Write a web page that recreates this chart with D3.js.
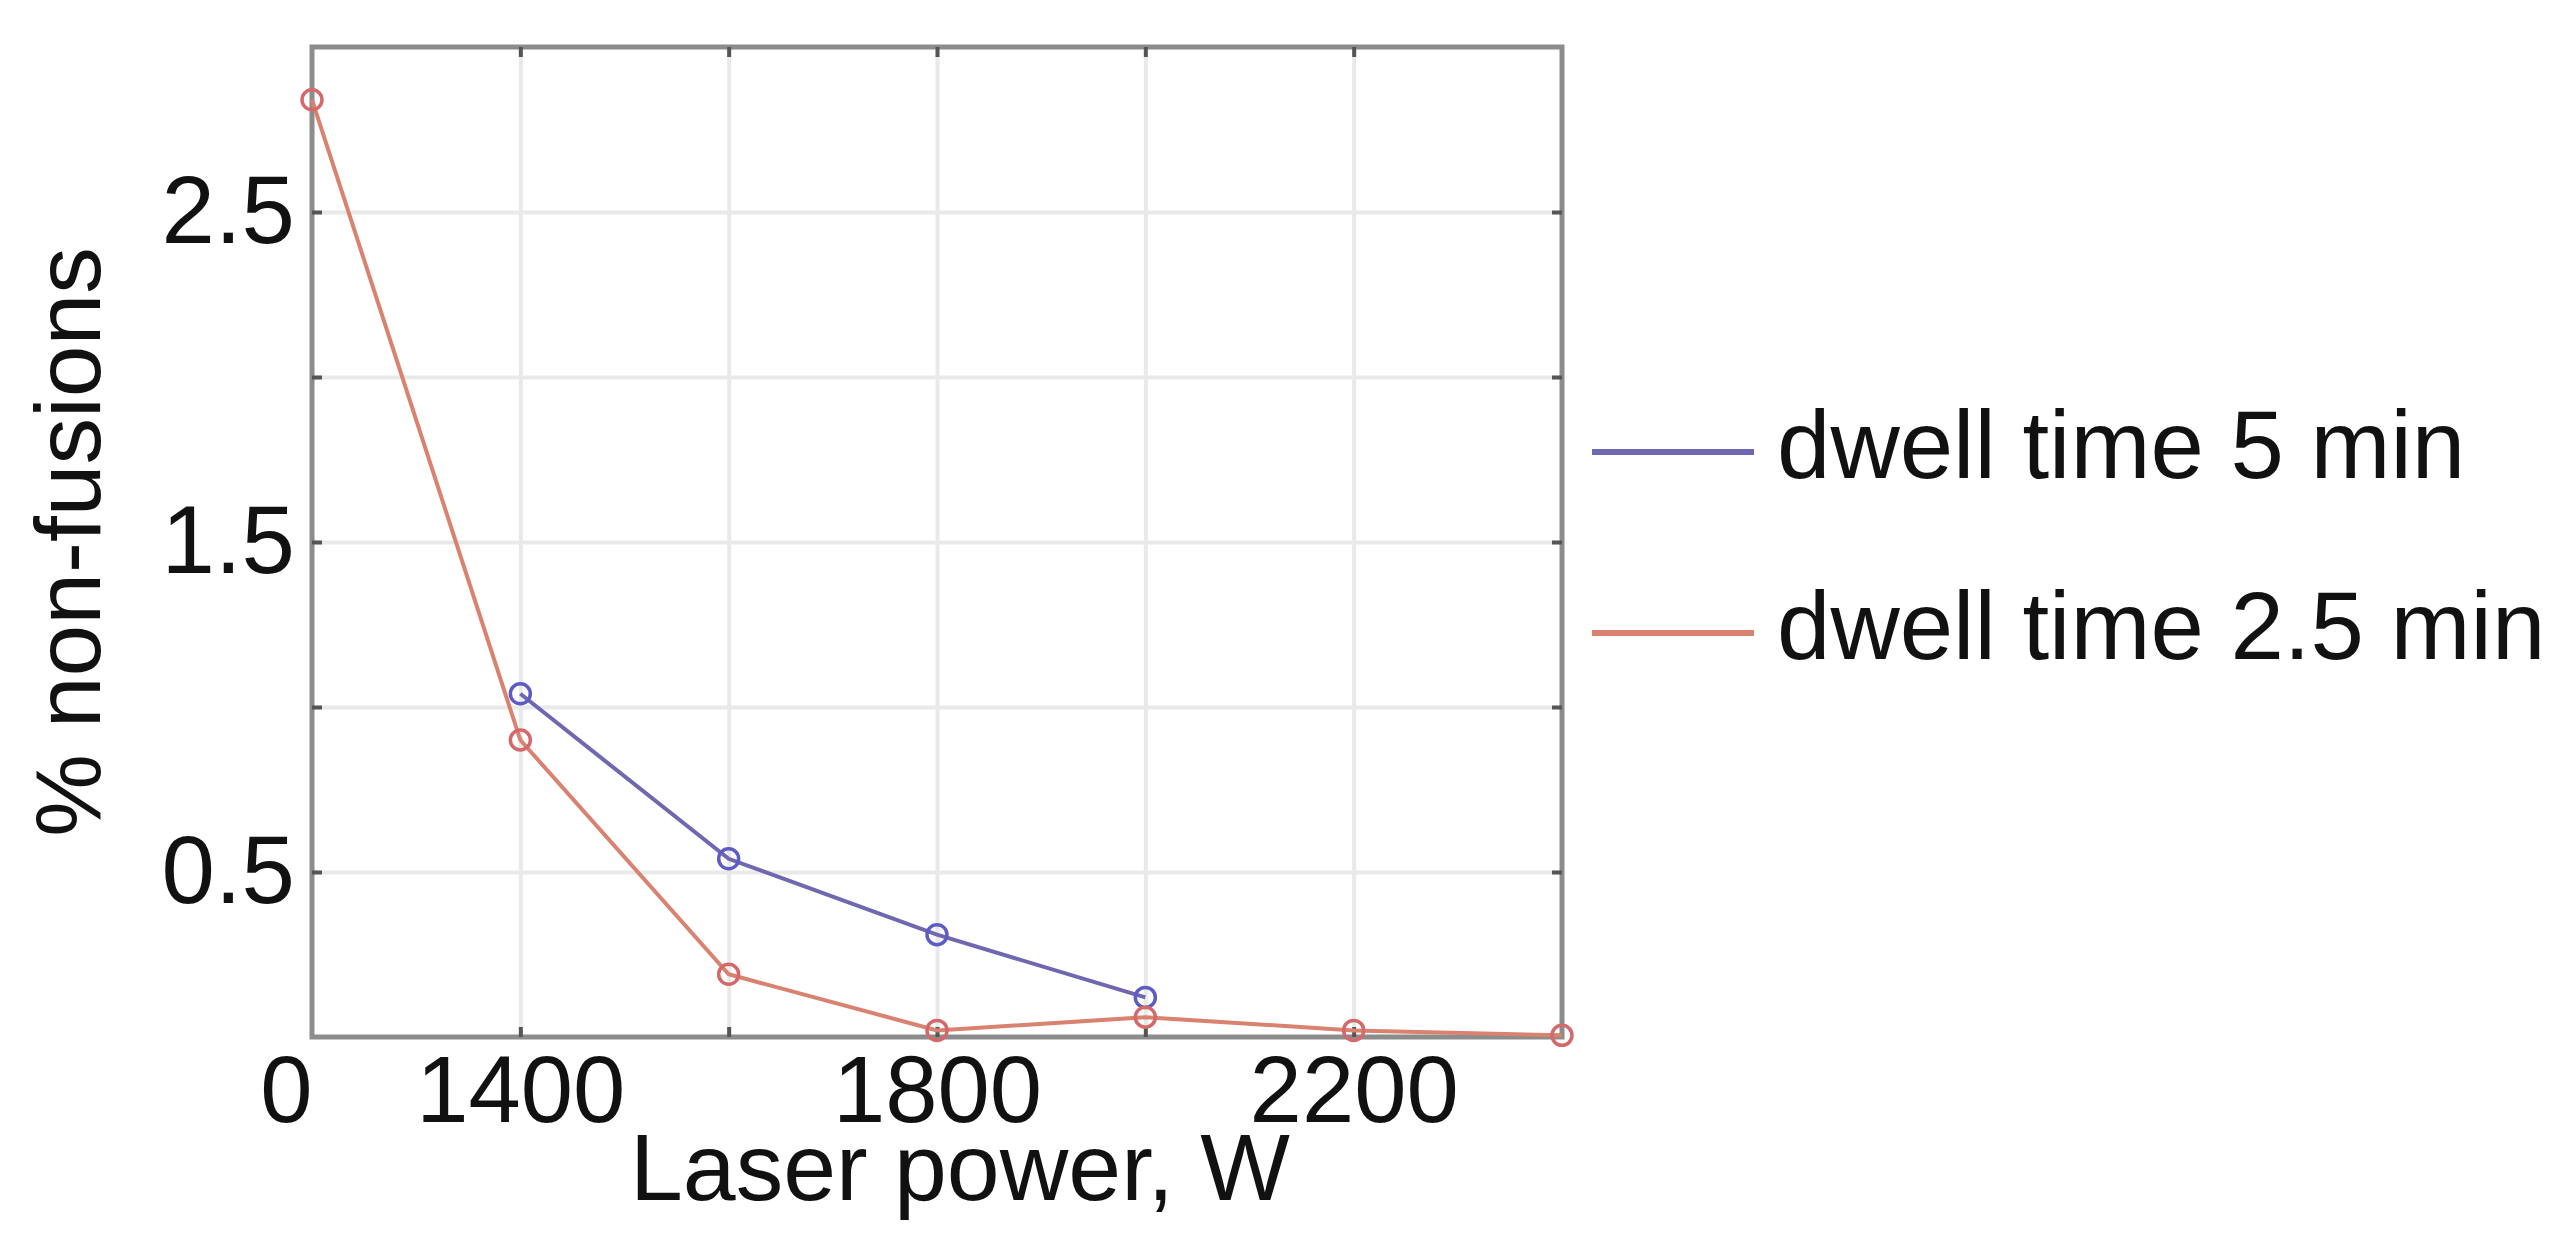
<!DOCTYPE html>
<html>
<head>
<meta charset="utf-8">
<script src="https://cdn.jsdelivr.net/npm/d3@7"></script>
<style>
  body { margin: 0; background: #fff; }
  svg { display: block; }
  .tick text { font-family: "Liberation Sans", Arial, sans-serif; fill: #111; }
</style>
</head>
<body>
<div id="chart"></div>
<script>
// data
var power5 = [1400, 1600, 1800, 2000];
var nonfusion5 = [1.04, 0.54, 0.31, 0.12];

var power25 = [1200, 1400, 1600, 1800, 2000, 2200, 2400];
var nonfusion25 = [2.84, 0.90, 0.19, 0.02, 0.06, 0.02, 0.005];

var seriesNames = ["dwell time 5 min", "dwell time 2.5 min"];

var xGridTicks = [1400, 1600, 1800, 2000, 2200];
var xLabelTicks = [1200, 1400, 1800, 2200];
var xTickLabels = ["0", "1400", "1800", "2200"];

var yGridTicks = [0.5, 1, 1.5, 2, 2.5];
var yLabelTicks = [0.5, 1.5, 2.5];
var yTickLabels = ["0.5", "1.5", "2.5"];

function chart() {

var svg = d3.select("#chart").append("svg")
    .attr("width", 2567)
    .attr("height", 1241),
    margin = {top: 47, left: 312},
    width = 1250,
    height = 990,
    font = "\"Liberation Sans\", Arial, sans-serif",
    g = svg.append("g").attr("transform", "translate(" + margin.left + "," + margin.top + ")");

var x = d3.scaleLinear().domain([1200, 2400]).range([0, width]),
    y = d3.scaleLinear().domain([0, 3]).range([height, 0]),
    z = d3.scaleOrdinal().domain(seriesNames).range(["#6f67b0", "#d8826f"]);

var series = [
  {id: seriesNames[0], marker: "#5c5cc4", values: power5.map(function(p, i) { return {power: p, value: nonfusion5[i]}; })},
  {id: seriesNames[1], marker: "#d4686a", values: power25.map(function(p, i) { return {power: p, value: nonfusion25[i]}; })}
];

var line = d3.line()
    .x(function(d) { return x(d.power); })
    .y(function(d) { return y(d.value); });

// grid
var gx = g.append("g")
    .attr("transform", "translate(0," + height + ")")
    .call(d3.axisBottom(x).tickValues(xGridTicks).tickSize(-height).tickFormat(""));
var gy = g.append("g")
    .call(d3.axisLeft(y).tickValues(yGridTicks).tickSize(-width).tickFormat(""));
[gx, gy].forEach(function(a) {
  a.select(".domain").remove();
  a.selectAll("line").attr("stroke", "#e9e9e9").attr("stroke-width", 4);
});

// box
g.append("rect")
    .attr("width", width)
    .attr("height", height)
    .attr("fill", "none")
    .attr("stroke", "#8c8c8c")
    .attr("stroke-width", 5);

// inward ticks on all four sides
var tickAxes = [
  g.append("g").attr("transform", "translate(0," + height + ")").call(d3.axisBottom(x).tickValues(xGridTicks).tickSize(-10).tickFormat("")),
  g.append("g").call(d3.axisTop(x).tickValues(xGridTicks).tickSize(-10).tickFormat("")),
  g.append("g").call(d3.axisLeft(y).tickValues(yGridTicks).tickSize(-10).tickFormat("")),
  g.append("g").attr("transform", "translate(" + width + ",0)").call(d3.axisRight(y).tickValues(yGridTicks).tickSize(-10).tickFormat(""))
];
tickAxes.forEach(function(a) {
  a.select(".domain").remove();
  a.selectAll("line").attr("stroke", "#555").attr("stroke-width", 4);
});

// tick labels
var xl = g.append("g")
    .attr("transform", "translate(0," + height + ")")
    .call(d3.axisBottom(x).tickValues(xLabelTicks).tickSize(0).tickPadding(18)
      .tickFormat(function(d, i) { return xTickLabels[i]; }));
xl.select(".domain").remove();
xl.selectAll("text")
    .style("font-size", "94px")
    .attr("text-anchor", function(d, i) { return i === 0 ? "end" : "middle"; });

var yl = g.append("g")
    .call(d3.axisLeft(y).tickValues(yLabelTicks).tickSize(0).tickPadding(17)
      .tickFormat(function(d, i) { return yTickLabels[i]; }));
yl.select(".domain").remove();
yl.selectAll("text").style("font-size", "96px");

// axis titles
g.append("text")
    .attr("x", width / 2 + 23)
    .attr("y", height + 163)
    .attr("text-anchor", "middle")
    .style("font", "95px " + font)
    .attr("fill", "#111")
    .text("Laser power, W");

g.append("text")
    .attr("transform", "rotate(-90)")
    .attr("x", -height / 2)
    .attr("y", -212)
    .attr("text-anchor", "middle")
    .style("font", "93px " + font)
    .attr("fill", "#111")
    .text("% non-fusions");

// lines + markers
var s = g.selectAll(".series")
  .data(series)
  .enter().append("g")
    .attr("class", "series");

s.append("path")
    .attr("d", function(d) { return line(d.values); })
    .attr("fill", "none")
    .attr("stroke", function(d) { return z(d.id); })
    .attr("stroke-width", 4);

s.selectAll("circle")
  .data(function(d) { return d.values.map(function(v) { return {power: v.power, value: v.value, color: d.marker}; }); })
  .enter().append("circle")
    .attr("cx", function(d) { return x(d.power); })
    .attr("cy", function(d) { return y(d.value); })
    .attr("r", 10)
    .attr("fill", "none")
    .attr("stroke", function(d) { return d.color; })
    .attr("stroke-width", 3.5);

// legend
var legend = svg.append("g")
    .attr("transform", "translate(1592,452)");

var item = legend.selectAll(".item")
  .data(seriesNames)
  .enter().append("g")
    .attr("class", "item")
    .attr("transform", function(d, i) { return "translate(0," + (i * 181) + ")"; });

item.append("line")
    .attr("x1", 0)
    .attr("x2", 162)
    .attr("stroke", function(d) { return z(d); })
    .attr("stroke-width", 6);

item.append("text")
    .attr("x", 185)
    .attr("y", 26)
    .style("font", "96px " + font)
    .attr("fill", "#111")
    .text(function(d) { return d; });

}

chart();
</script>
</body>
</html>
